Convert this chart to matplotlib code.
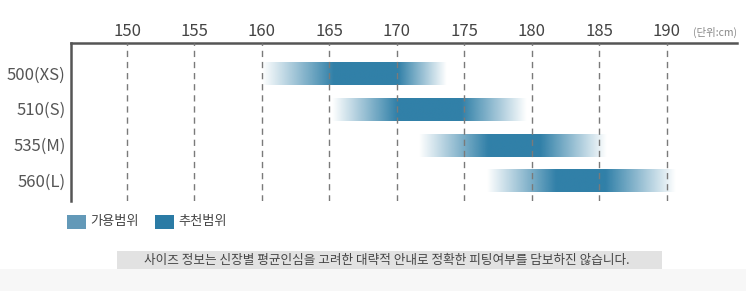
import numpy as np
import matplotlib
matplotlib.use("Agg")
import matplotlib.pyplot as plt
from matplotlib.patches import Rectangle
from matplotlib.colors import to_rgb

plt.rcParams['font.family'] = ['Noto Sans CJK KR', 'DejaVu Sans']

# ---- data ----
sizes = ["500(XS)", "510(S)", "535(M)", "560(L)"]
avail_start = [160.0, 165.2, 171.6, 176.7]
avail_end = [173.7, 179.6, 185.5, 190.7]
rec_start = [165.3, 170.0, 176.7, 181.8]
rec_end = [170.1, 174.8, 180.6, 185.5]
xticks = [150, 155, 160, 165, 170, 175, 180, 185, 190]
legend_labels = ["가용범위", "추천범위"]
note = "사이즈 정보는 신장별 평균인심을 고려한 대략적 안내로 정확한 피팅여부를 담보하진 않습니다."
unit_label = "(단위:cm)"

W, H = 746, 291
fig = plt.figure(figsize=(W / 100, H / 100), dpi=100)
fig.patch.set_facecolor("white")

def fx(px):
    return px / W

def fy(py):
    return 1 - py / H

ax = fig.add_axes([fx(71), fy(201), fx(737) - fx(71), fy(43) - fy(201)])
ax.set_facecolor("none")

dark = "#3180a8"
rgb = np.array(to_rgb(dark))

# grid lines
for t in xticks:
    ax.axvline(t, color="#7a7a7a", lw=1, ls=(0, (4.5, 3.5)), zorder=3)

bar_h = 0.62
for i in range(len(sizes)):
    xs = np.linspace(avail_start[i], avail_end[i], 400)
    alpha = np.interp(xs, [avail_start[i], rec_start[i], rec_end[i], avail_end[i]], [0, 1, 1, 0])
    img = np.zeros((1, len(xs), 4))
    img[0, :, :3] = rgb
    img[0, :, 3] = alpha
    ax.imshow(img, extent=(avail_start[i], avail_end[i], i + 0.03 + bar_h / 2, i + 0.03 - bar_h / 2),
              aspect="auto", interpolation="bilinear", zorder=2)

ax.set_xlim(145.85, 195.2)
ax.set_ylim(3.585, -0.84)

for s in ["right", "bottom"]:
    ax.spines[s].set_visible(False)
for s in ["left", "top"]:
    ax.spines[s].set_color("#555555")
    ax.spines[s].set_linewidth(1.8)

ax.xaxis.tick_top()
ax.set_xticks(xticks)
ax.set_xticklabels([str(t) for t in xticks])
ax.set_yticks(range(len(sizes)))
ax.set_yticklabels(sizes)
ax.tick_params(axis="x", length=0, pad=2.5, labelsize=12, labelcolor="#444444")
ax.tick_params(axis="y", length=0, pad=4, labelsize=12, labelcolor="#555555")

fig.text(fx(715), fy(32), unit_label, ha="center", va="center", fontsize=7.5,
         color="#888888")

# legend
swatches = ["#6399b8", "#2b7ba5"]
lx = [67, 155]
for x0, c, lab in zip(lx, swatches, legend_labels):
    fig.add_artist(Rectangle((fx(x0), fy(229)), fx(19), 14 / H, transform=fig.transFigure,
                             facecolor=c, edgecolor="none"))
    fig.text(fx(x0 + 23), fy(222), lab, ha="left", va="center", fontsize=9.5, color="#444444")

# note box and bottom band
fig.add_artist(Rectangle((0, 0), 1, 22 / H, transform=fig.transFigure,
                         facecolor="#f7f7f7", edgecolor="none"))
fig.add_artist(Rectangle((fx(117), fy(269)), fx(662) - fx(117), 18 / H,
                         transform=fig.transFigure, facecolor="#e2e2e2", edgecolor="none"))
fig.text(fx(387), fy(260), note, ha="center", va="center", fontsize=9.1, color="#444444")

fig.savefig("out.png", dpi=100)
